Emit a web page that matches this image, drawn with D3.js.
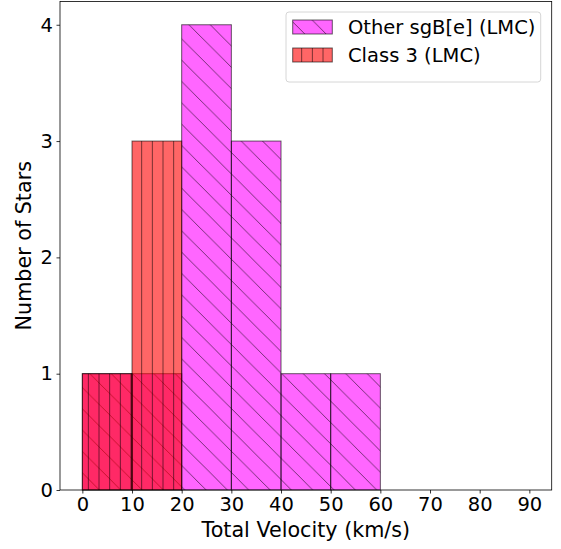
<!DOCTYPE html>
<html><head><meta charset="utf-8">
<script src="https://cdn.jsdelivr.net/npm/d3@7"></script>
<style>html,body{margin:0;padding:0;background:#fff;} svg{display:block;font-family:"DejaVu Sans",sans-serif;}</style>
</head><body>
<script>
const otherEdges = [0,10,20,30,40,50,60];
const otherCounts = [1,1,4,3,1,1];
const class3Edges = [0,10,20];
const class3Counts = [1,3];
const xTicks = [0,10,20,30,40,50,60,70,80,90];
const yTicks = [0,1,2,3,4];
const seriesNames = ["Other sgB[e] (LMC)","Class 3 (LMC)"];
const seriesColors = ["#ff00ff","#ff0000"];
const xLabel = "Total Velocity (km/s)";
const yLabel = "Number of Stars";

const W=561,H=549;
const L=60,R=551.7,T=1.5,B=490;
const x=d3.scaleLinear().domain([-4.5,94.5]).range([L,R]);
const y=d3.scaleLinear().domain([0,4.2]).range([B,T]);
const FS=19.5, LFS=20.7;

const svg=d3.select("body").append("svg").attr("width",W).attr("height",H);
const defs=svg.append("defs");
const PD=21.333;
const pd=defs.append("pattern").attr("id","hatchD").attr("patternUnits","userSpaceOnUse")
  .attr("width",PD).attr("height",PD).attr("x",14.8).attr("y",0);
pd.append("path").attr("d",`M-2,-2L${PD+2},${PD+2}M-2,${PD-2}L2,${PD+2}M${PD-2},-2L${PD+2},2`)
  .attr("stroke","#000").attr("stroke-opacity",0.6).attr("stroke-width",0.9).attr("fill","none");
const PV=10.667;
const pv=defs.append("pattern").attr("id","hatchV").attr("patternUnits","userSpaceOnUse")
  .attr("width",PV).attr("height",10).attr("x",3-PV/2).attr("y",0);
pv.append("line").attr("x1",PV/2).attr("x2",PV/2).attr("y1",-1).attr("y2",11)
  .attr("stroke","#000").attr("stroke-opacity",0.6).attr("stroke-width",0.9);

function bars(edges,counts,color,pat){
  const data=counts.map((c,i)=>({x0:edges[i],x1:edges[i+1],c}));
  const g=svg.append("g");
  g.selectAll("rect.f").data(data).join("rect").attr("class","f")
    .attr("x",d=>x(d.x0)).attr("width",d=>x(d.x1)-x(d.x0))
    .attr("y",d=>y(d.c)).attr("height",d=>y(0)-y(d.c))
    .attr("fill",color).attr("fill-opacity",0.6);
  g.selectAll("rect.h").data(data).join("rect").attr("class","h")
    .attr("x",d=>x(d.x0)).attr("width",d=>x(d.x1)-x(d.x0))
    .attr("y",d=>y(d.c)).attr("height",d=>y(0)-y(d.c))
    .attr("fill",`url(#${pat})`);
  g.selectAll("rect.e").data(data).join("rect").attr("class","e")
    .attr("x",d=>x(d.x0)).attr("width",d=>x(d.x1)-x(d.x0))
    .attr("y",d=>y(d.c)).attr("height",d=>y(0)-y(d.c))
    .attr("fill","none").attr("stroke","#000").attr("stroke-opacity",0.6).attr("stroke-width",1);
}
bars(otherEdges,otherCounts,seriesColors[0],"hatchD");
bars(class3Edges,class3Counts,seriesColors[1],"hatchV");

svg.append("rect").attr("x",L).attr("y",T).attr("width",R-L).attr("height",B-T)
  .attr("fill","none").attr("stroke","#000").attr("stroke-width",0.8);

const xa=svg.append("g").attr("transform",`translate(0,${B})`)
  .call(d3.axisBottom(x).tickValues(xTicks).tickSize(3.5).tickPadding(3.5).tickFormat(d3.format("d")));
const ya=svg.append("g").attr("transform",`translate(${L},0)`)
  .call(d3.axisLeft(y).tickValues(yTicks).tickSize(3.5).tickPadding(3.5).tickFormat(d3.format("d")));
[xa,ya].forEach(a=>{
  a.select(".domain").remove();
  a.selectAll(".tick line").attr("stroke","#000").attr("stroke-width",0.8);
  a.selectAll(".tick text").attr("font-size",FS).attr("font-family","DejaVu Sans").attr("fill","#000");
});

svg.append("text").attr("x",(L+R)/2).attr("y",536.5).attr("text-anchor","middle")
  .attr("font-size",LFS).attr("fill","#000").text(xLabel);
svg.append("text").attr("transform",`translate(31,${(T+B)/2}) rotate(-90)`).attr("text-anchor","middle")
  .attr("font-size",LFS).attr("fill","#000").text(yLabel);

const lg=svg.append("g");
lg.append("rect").attr("x",286).attr("y",12).attr("width",254.7).attr("height",70).attr("rx",3)
  .attr("fill","#fff").attr("fill-opacity",0.8).attr("stroke","#d6d6d6").attr("stroke-width",1);
const rowsY=[20,48];
const pats=["hatchD","hatchV"];
seriesNames.forEach((n,i)=>{
  const ry=rowsY[i];
  lg.append("rect").attr("x",292.7).attr("y",ry).attr("width",39.6).attr("height",14)
    .attr("fill",seriesColors[i]).attr("fill-opacity",0.6);
  lg.append("rect").attr("x",292.7).attr("y",ry).attr("width",39.6).attr("height",14)
    .attr("fill",`url(#${pats[i]})`);
  lg.append("rect").attr("x",292.7).attr("y",ry).attr("width",39.6).attr("height",14)
    .attr("fill","none").attr("stroke","#000").attr("stroke-opacity",0.6).attr("stroke-width",1);
  lg.append("text").attr("x",348).attr("y",ry+14.3).attr("font-size",FS).attr("fill","#000").text(n);
});
</script>
</body></html>
